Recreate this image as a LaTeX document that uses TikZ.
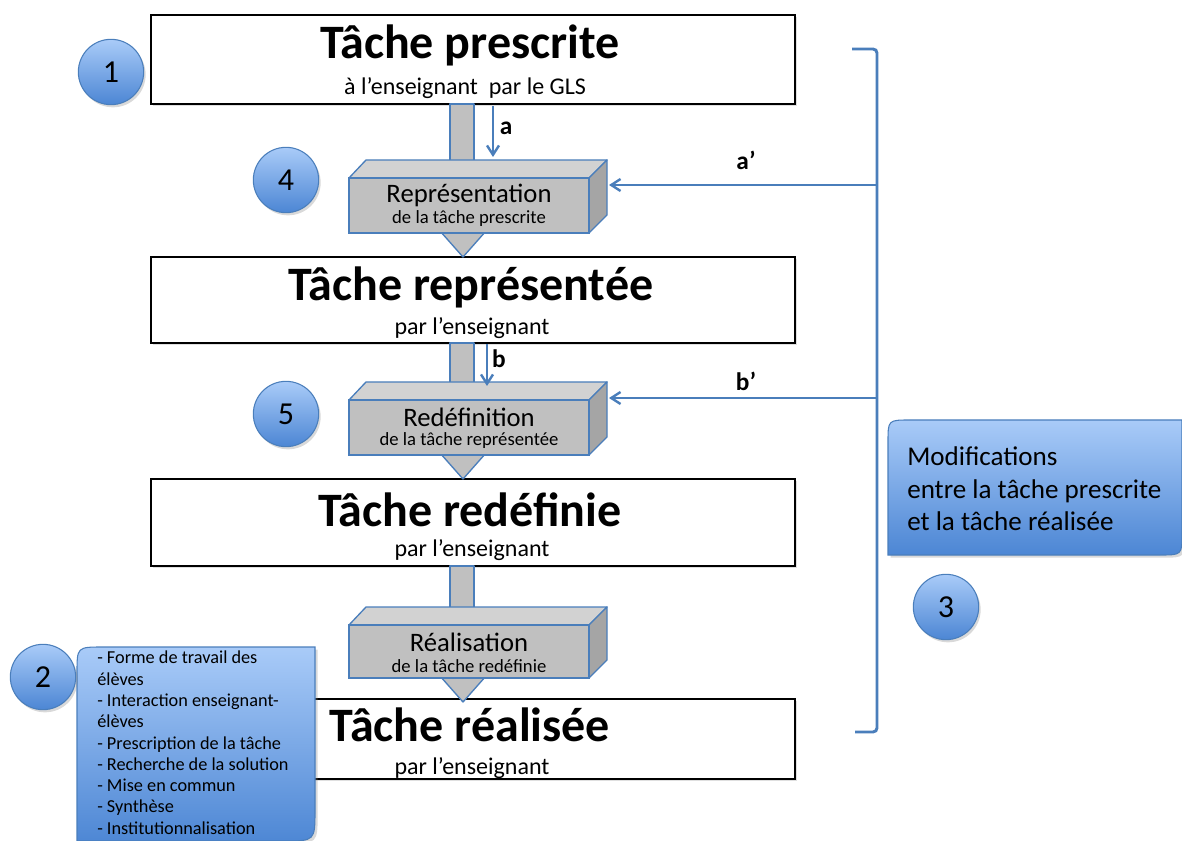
\documentclass[tikz,border=0pt]{standalone}
\usepackage{fontspec}
\setmainfont{Carlito}
\usetikzlibrary{arrows.meta,shadows,calc}
\definecolor{bord}{HTML}{4A7EBB}
\definecolor{bluelt}{HTML}{A9CBF8}
\definecolor{bluedk}{HTML}{4C86D4}
\definecolor{greyfront}{HTML}{C0C0C0}
\definecolor{greytop}{HTML}{D2D2D2}
\definecolor{greyside}{HTML}{A5A5A5}
\begin{document}
\begin{tikzpicture}[x=0.75pt,y=-0.75pt,
  mainbox/.style={draw=black,line width=1pt,fill=white,minimum width=483pt,inner sep=0pt,
    drop shadow={opacity=0.25,shadow xshift=1.5pt,shadow yshift=-1.5pt}},
  title/.style={font=\bfseries\fontsize{36}{40}\selectfont,inner sep=0pt},
  subt/.style={font=\fontsize{18}{21}\selectfont,inner sep=0pt},
  front/.style={draw=bord,line width=1pt,fill=greyfront,minimum width=180pt,inner sep=0pt},
  face/.style={draw=bord,line width=1pt,line join=round},
  lbla/.style={font=\fontsize{20}{23}\selectfont,inner sep=0pt},
  lblb/.style={font=\fontsize{14}{16}\selectfont,inner sep=0pt},
  num/.style={circle,draw=bord,line width=0.8pt,minimum size=49pt,inner sep=0pt,
    top color=bluelt,bottom color=bluedk,font=\fontsize{24}{28}\selectfont,
    drop shadow={opacity=0.3,shadow xshift=1.5pt,shadow yshift=-2pt}},
  barrow/.style={draw=bord,line width=1.8pt,-{Straight Barb[length=7pt,width=9pt,line width=1.8pt]}},
  lett/.style={font=\bfseries\fontsize{19}{22}\selectfont,inner sep=0pt},
  callout/.style={draw=bord,line width=0.8pt,top color=bluelt,bottom color=bluedk,
    drop shadow={opacity=0.3,shadow xshift=2pt,shadow yshift=-2pt}}
]
\useasboundingbox (0,0) rectangle (1182,841);

% main boxes
\node[mainbox,minimum height=66.75pt] (p1) at (473,59.5) {};
\node[title] (p1t) at (470,45) {Tâche prescrite};
\node[subt] (p1s) at (465,88) {à l’enseignant\ \ par le GLS};

\node[mainbox,minimum height=64.5pt] (p2) at (473,300) {};
\node[title] (p2t) at (471,287) {Tâche représentée};
\node[subt] (p2s) at (472,328) {par l’enseignant};

\node[mainbox,minimum height=65.25pt] (p3) at (473,522.5) {};
\node[title] (p3t) at (470,510) {Tâche redéfinie};
\node[subt] (p3s) at (472,550) {par l’enseignant};

\node[mainbox,minimum height=60pt] (p4) at (473,739) {};
\node[title] (p4t) at (470,725) {Tâche réalisée};
\node[subt] (p4s) at (472,768) {par l’enseignant};

% shafts
\filldraw[face,fill=greyfront] (450,104) rectangle (474,161);
\filldraw[face,fill=greyfront] (450,343) rectangle (474,383);
\filldraw[face,fill=greyfront] (450,566) rectangle (474,608);

% 3D boxes
\foreach \n/\T/\H/\ta/\tb in {rep/160/55/{Représentation}/{de la tâche prescrite},
    red/382/55/{Redéfinition}/{de la tâche représentée},
    rea/607/53/{Réalisation}/{de la tâche redéfinie}} {
  \filldraw[face,fill=greyfront] (440,\T+18+\H-2) -- (486,\T+18+\H-2) -- (463,\T+18+\H+24) -- cycle;
  \filldraw[face,fill=greytop] (349,\T+18) -- (366,\T) -- (607,\T) -- (589,\T+18) -- cycle;
  \filldraw[face,fill=greyside] (589,\T+18) -- (607,\T) -- (607,\T+\H) -- (589,\T+18+\H) -- cycle;
  \node[front,minimum height=\H*0.75pt] (\n) at (469,\T+18+\H/2) {};
  \node[lbla] (\n-a) at (469,\T+35) {\ta};
  \node[lblb] (\n-b) at (469,\T+59) {\tb};
}

% small arrows a, b
\coordinate (a0) at (493,106);
\coordinate (a1) at (493,157);
\draw[barrow] (a0) -- (a1);
\node[lett] (la) at (506,128) {a};
\coordinate (b0) at (487,344);
\coordinate (b1) at (487,386);
\draw[barrow] (b0) -- (b1);
\node[lett] (lb) at (499,359) {b};

% bracket
\draw[draw=bord,line width=2.2pt,rounded corners=3pt] (852,49) -- (877,49) -- (877,732) -- (855,732);
\coordinate (ap0) at (877,185);
\coordinate (ap1) at (609,185);
\draw[barrow] (ap0) -- (ap1);
\node[lett] (lap) at (746,160) {a’};
\coordinate (bp0) at (877,398);
\coordinate (bp1) at (609,398);
\draw[barrow] (bp0) -- (bp1);
\node[lett] (lbp) at (746,381) {b’};

% right callout
\path[callout] (888,555) -- (888,442) .. controls (888,420) .. (910,420) -- (1182,420) -- (1182,533) .. controls (1182,555) .. (1160,555) -- cycle;
\node[font=\fontsize{20.3}{24.4}\selectfont,align=left,anchor=west,inner sep=0pt] (mod) at (907,489)
  {Modifications\\entre la tâche prescrite\\et la tâche réalisée};

% left callout
\path[callout] (77,845) -- (77,673) .. controls (77,647) .. (103,647) -- (315,647) -- (315,810) .. controls (315,841) .. (284,841) -- (77,841) -- cycle;
\node[font=\fontsize{13.7}{15.95}\selectfont,align=left,anchor=north west,inner sep=0pt] (lst) at (97,651)
  {- Forme de travail des\\élèves\\- Interaction enseignant-\\élèves\\- Prescription de la tâche\\- Recherche de la solution\\- Mise en commun\\- Synthèse\\- Institutionnalisation};

% number circles
\node[num] (c1) at (111,72) {1};
\node[num] (c4) at (286,180) {4};
\node[num] (c5) at (286,414) {5};
\node[num] (c3) at (946,607) {3};
\node[num] (c2) at (43,677) {2};
\end{tikzpicture}
\end{document}
